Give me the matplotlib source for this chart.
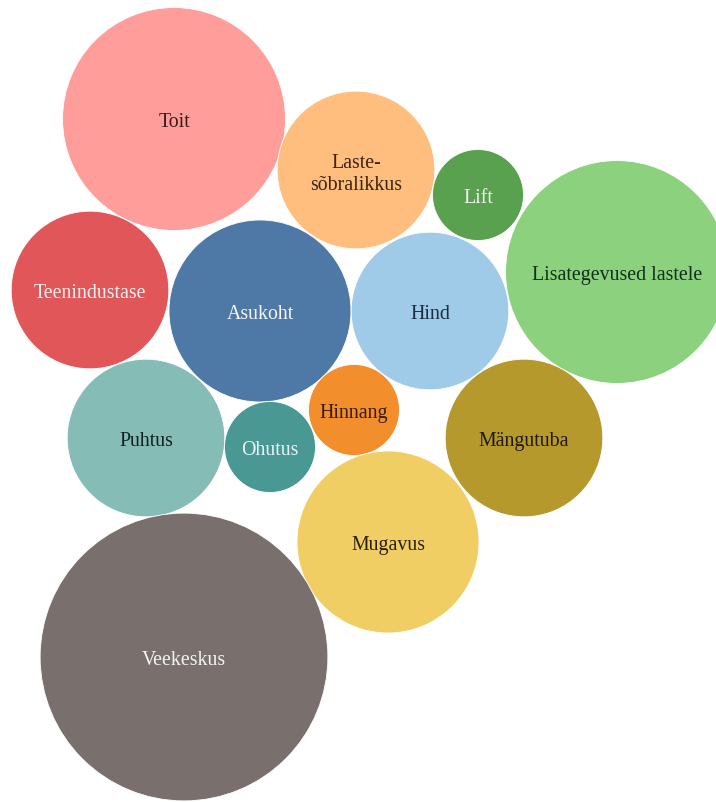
import numpy as np
import matplotlib.pyplot as plt
from matplotlib.patches import Circle

# Bubble chart: what matters to families when choosing a hotel
labels = ['Toit', 'Laste-\nsõbralikkus', 'Lift', 'Lisategevused lastele',
          'Teenindustase', 'Asukoht', 'Hind', 'Puhtus', 'Ohutus',
          'Hinnang', 'Mängutuba', 'Mugavus', 'Veekeskus']
values = [6, 3, 1, 6, 3, 4, 3, 3, 1, 1, 3, 4, 10]

# packed layout centres (layout units, y downwards)
cx = [174, 356, 478, 617, 90, 260, 430, 146, 270, 354, 524, 388, 184]
cy = [120, 171, 196, 273, 291, 312, 312, 439, 448, 411, 439, 543, 658]

colors = ['#FF9D9A', '#FFBE7D', '#59A14F', '#8CD17D', '#E15759', '#4E79A7',
          '#A0CBE8', '#86BCB6', '#499894', '#F28E2B', '#B6992D', '#F1CE63',
          '#79706E']
text_colors = ['#3a1a1a', '#3a2410', '#f2f2f2', '#10301a', '#f5f0f0', '#f5f5f5',
               '#1a2a40', '#102020', '#e8f5f5', '#3a1a08', '#201a05', '#2a2008',
               '#f2f2f2']

fig = plt.figure(figsize=(7.16, 8.03), dpi=100)
ax = fig.add_axes([0, 0, 1, 1])

unit = 45.5  # radius of a bubble with value 1
for x, y, v, c in zip(cx, cy, values, colors):
    ax.add_patch(Circle((x, y), unit * np.sqrt(v), facecolor=c,
                        edgecolor='white', linewidth=0.6))

for x, y, lab, tc in zip(cx, cy, labels, text_colors):
    ax.text(x, y, lab, ha='center', va='center_baseline', color=tc,
            fontsize=14.3, family='Liberation Serif', linespacing=1.15)

ax.set_xlim(0, 716)
ax.set_ylim(803, 0)
ax.set_aspect('equal')
ax.axis('off')

fig.savefig('out.png', dpi=100, facecolor='white')
